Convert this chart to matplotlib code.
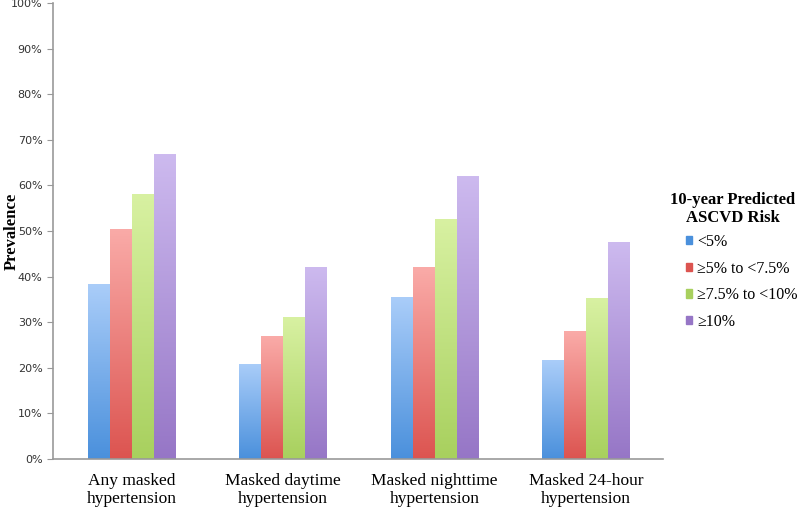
import numpy as np
import matplotlib
matplotlib.use("Agg")
import matplotlib.pyplot as plt
from matplotlib.colors import LinearSegmentedColormap
from matplotlib.ticker import PercentFormatter

# data
categories = ["Any masked\nhypertension", "Masked daytime\nhypertension",
              "Masked nighttime\nhypertension", "Masked 24-hour\nhypertension"]
risk_groups = ["<5%", "\u22655% to <7.5%", "\u22657.5% to <10%", "\u226510%"]
under_5 = [38.3, 20.9, 35.5, 21.7]
from_5_to_75 = [50.5, 26.9, 42.0, 28.0]
from_75_to_10 = [58.2, 31.1, 52.7, 35.2]
over_10 = [66.8, 42.0, 62.0, 47.5]
series = [under_5, from_5_to_75, from_75_to_10, over_10]

# bottom colour, top colour of each gradient
colours = [("#4a90dc", "#aacdf9"), ("#dc5450", "#faaba8"),
           ("#a8d05e", "#d8f1a2"), ("#9676c6", "#cdbaef")]

fig = plt.figure(figsize=(8, 5.08), dpi=100)
ax = fig.add_axes([0.066, 0.0965, 0.763, 0.8975])

x = np.arange(len(categories))
width = 0.145
grad = np.linspace(0, 1, 256).reshape(-1, 1)
handles = []
for i, (vals, (c0, c1)) in enumerate(zip(series, colours)):
    cmap = LinearSegmentedColormap.from_list("g%d" % i, [c0, c1])
    bars = ax.bar(x + (i - 1.5) * width, vals, width, color="none",
                  edgecolor="none", label=risk_groups[i])
    for b in bars:
        bx, by = b.get_x(), b.get_y()
        im = ax.imshow(grad, cmap=cmap, aspect="auto", origin="lower",
                       extent=[bx, bx + b.get_width(), by, by + b.get_height()],
                       zorder=2)
        im.set_clip_path(b)
    handles.append(plt.Rectangle((0, 0), 1, 1, color=c0))

ax.set_xlim(-0.522, len(categories) - 0.49)
ax.set_ylim(0, 100)
ax.set_yticks(range(0, 101, 10))
ax.yaxis.set_major_formatter(PercentFormatter(decimals=0))
ax.set_xticks(x)
ax.set_xticklabels(categories, fontsize=12.5, family="Liberation Serif")
ax.tick_params(axis="x", length=0, pad=10)
ax.tick_params(axis="y", length=4, color="#999999", labelsize=8,
               labelcolor="#333333")
for s in ["top", "right"]:
    ax.spines[s].set_visible(False)
for s in ["left", "bottom"]:
    ax.spines[s].set_color("#999999")
    ax.spines[s].set_linewidth(1.2)
ax.set_ylabel("Prevalence", fontsize=12, fontweight="bold",
              family="Liberation Serif")
ax.yaxis.set_label_coords(-0.054, 0.5)

# legend title placed on its own
fig.text(733 / 800, 1 - 209 / 508, "10-year Predicted\nASCVD Risk",
         ha="center", va="center", multialignment="center",
         family="Liberation Serif", fontsize=12, fontweight="bold",
         linespacing=1.15)

leg = fig.legend(handles, risk_groups, loc="upper left",
                 bbox_to_anchor=(0.857, 1 - 234 / 508), frameon=False,
                 borderpad=0, borderaxespad=0,
                 prop={"family": "Liberation Serif", "size": 11.5},
                 handlelength=0.42, handleheight=0.42, handletextpad=0.3,
                 labelspacing=0.66)

fig.savefig("out.png", dpi=100)
